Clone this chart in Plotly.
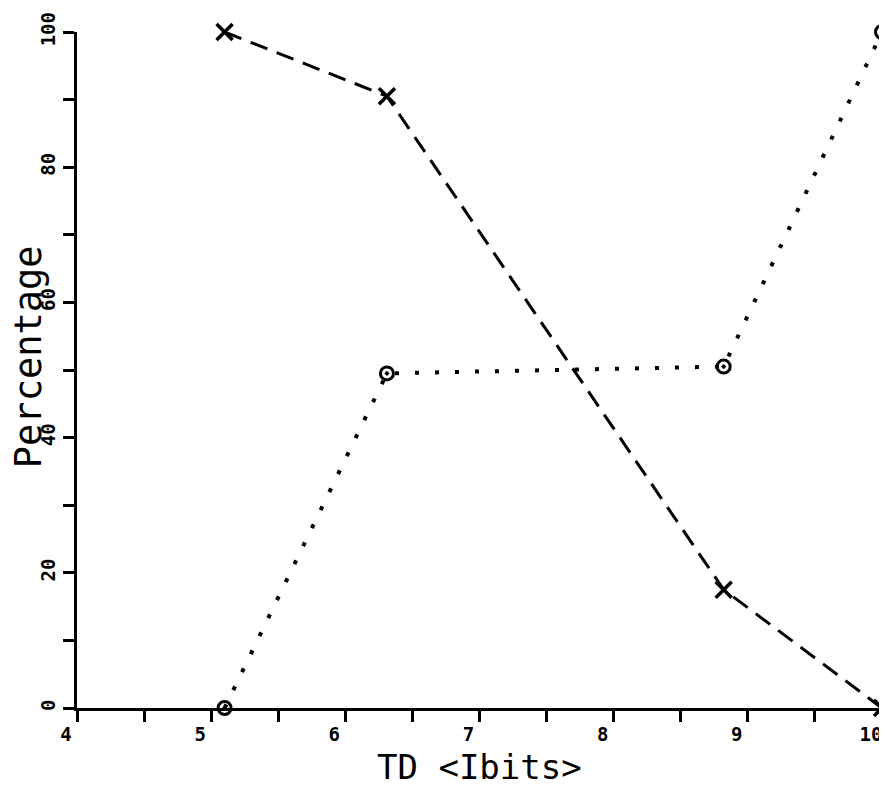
import plotly.graph_objects as go

td = [5.1, 6.31, 8.82, 10.0]
pct_x = [100, 90.5, 17.5, 0]
pct_o = [0, 49.5, 50.5, 100]

x_ticks = [4, 5, 6, 7, 8, 9, 10]
y_ticks = [0, 20, 40, 60, 80, 100]

FONT = "DejaVu Sans Mono"

fig = go.Figure()
fig.add_trace(go.Scatter(
    x=td, y=pct_x, mode="lines+markers",
    line=dict(color="black", width=3, dash="18px,10px"),
    marker=dict(symbol="x-thin", size=16, color="black",
                line=dict(color="black", width=3.5)),
    cliponaxis=False, showlegend=False))
fig.add_trace(go.Scatter(
    x=td, y=pct_o, mode="lines+markers",
    line=dict(color="black", width=4, dash="4px,16px"),
    marker=dict(symbol="circle-open-dot", size=13, color="black",
                line=dict(color="black", width=3)),
    cliponaxis=False, showlegend=False))

fig.update_layout(
    width=879, height=780,
    margin=dict(l=69, r=5, t=24, b=80),
    paper_bgcolor="white", plot_bgcolor="white",
    font=dict(family=FONT, size=19, color="black"),
    xaxis=dict(
        range=[4, 10], tickvals=x_ticks,
        ticktext=["<b>%d</b>" % v for v in x_ticks], ticklabelshift=-11,
        ticklabelstandoff=-4,
        showline=True, linecolor="black", linewidth=3,
        showgrid=False, zeroline=False, automargin=False,
        ticks="outside", ticklen=11, tickwidth=3, tickcolor="black",
        tickfont_size=19,
    ),
    yaxis=dict(
        range=[0, 100], tickvals=y_ticks,
        ticktext=["<b>%d</b>" % v for v in y_ticks], tickangle=-90,
        showline=True, linecolor="black", linewidth=3,
        showgrid=False, zeroline=False, automargin=False,
        ticks="outside", ticklen=11, tickwidth=3, tickcolor="black",
        tickfont_size=19,
    ),
)
fig.update_xaxes(minor=dict(dtick=0.5, tick0=4, ticks="outside", ticklen=11,
                            tickwidth=3, tickcolor="black"))
fig.update_yaxes(minor=dict(dtick=10, tick0=0, ticks="outside", ticklen=11,
                            tickwidth=3, tickcolor="black"))

fig.add_annotation(text="TD &lt;Ibits&gt;", xref="paper", yref="paper",
                   x=0.5, y=-0.088, xanchor="center", yanchor="middle", showarrow=False,
                   font=dict(family=FONT, size=34, color="black"))
fig.add_annotation(text="Percentage", xref="paper", yref="paper",
                   x=-0.06, y=0.52, xanchor="center", yanchor="middle", textangle=-90,
                   showarrow=False,
                   font=dict(family=FONT, size=37, color="black"))

fig.write_html("out.html")
